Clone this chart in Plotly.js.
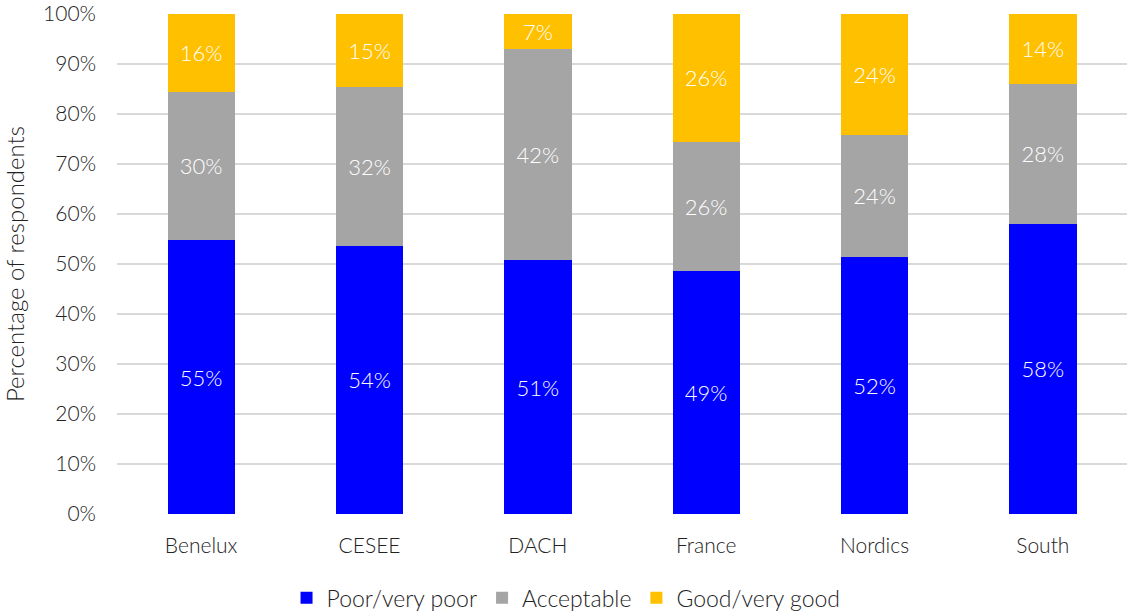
<!DOCTYPE html>
<html>
<head>
<meta charset="utf-8">
<script src="https://cdn.plot.ly/plotly-3.0.1.min.js"></script>
<style>html,body{margin:0;padding:0;background:#fff;}#chart{width:1127px;height:612px;}</style>
</head>
<body>
<div id="chart"></div>
<script>
const regions = ['Benelux', 'CESEE', 'DACH', 'France', 'Nordics', 'South'];
const poor = [54.8, 53.7, 50.8, 48.6, 51.5, 58.1];
const acceptable = [29.7, 31.8, 42.3, 25.9, 24.4, 28.0];
const good = [15.5, 14.5, 6.9, 25.5, 24.1, 13.9];
const seriesNames = ['Poor/very poor', 'Acceptable', 'Good/very good'];
const colors = ['#0000FF', '#A5A5A5', '#FFC000'];
const yTicks = [0, 10, 20, 30, 40, 50, 60, 70, 80, 90, 100];

const FONT = 'Lato, "Open Sans", sans-serif';
const W = 300;
const data = [poor, acceptable, good].map((vals, i) => ({
  type: 'bar',
  name: seriesNames[i],
  x: regions,
  y: vals,
  marker: {color: colors[i]},
  texttemplate: '%{y:.0f}%',
  textposition: 'inside',
  insidetextanchor: 'middle',
  textangle: 0,
  textfont: {color: '#ffffff', size: 22, family: FONT, weight: W},
  hoverinfo: 'skip'
}));

const layout = {
  width: 1127, height: 612,
  barmode: 'stack',
  bargap: 0.6,
  margin: {l: 117, r: 0, t: 14, b: 98},
  paper_bgcolor: '#ffffff',
  plot_bgcolor: '#ffffff',
  font: {family: FONT, color: '#222222', size: 21, weight: W},
  xaxis: {
    automargin: false,
    tickfont: {size: 21, color: '#222222', family: FONT, weight: W},
    ticklabelstandoff: 17,
    showline: false,
    showgrid: false,
    zeroline: false
  },
  yaxis: {
    automargin: false,
    range: [0, 100],
    tickvals: yTicks,
    ticktext: yTicks.map(v => v + '%'),
    tickfont: {size: 21, color: '#222222', family: FONT, weight: W},
    ticklabelstandoff: 20,
    showgrid: true,
    gridcolor: '#d9d9d9',
    gridwidth: 2,
    zeroline: false,
    title: {text: 'Percentage of respondents', font: {size: 24, color: '#222222', family: FONT, weight: W}, standoff: 13}
  },
  legend: {
    orientation: 'h',
    x: 0.4446, xanchor: 'center',
    yref: 'container',
    y: 0.023, yanchor: 'middle',
    font: {size: 23, color: '#222222', family: FONT, weight: W},
    traceorder: 'normal',
    itemwidth: 30
  },
  showlegend: true
};

Plotly.newPlot('chart', data, layout, {displayModeBar: false, staticPlot: true});
</script>
</body>
</html>
